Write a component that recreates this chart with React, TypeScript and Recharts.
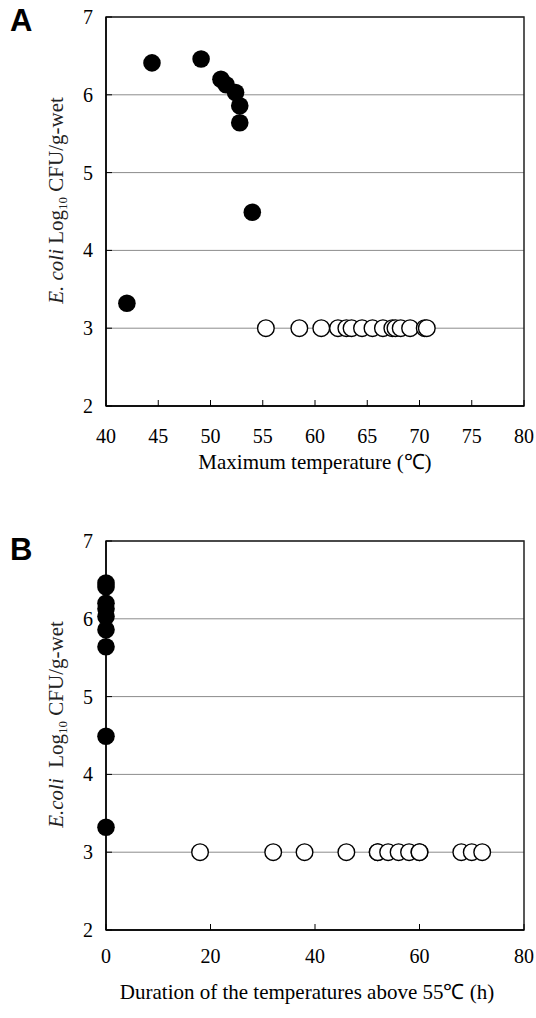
import React from "react";
import {
  ScatterChart,
  Scatter,
  XAxis,
  YAxis,
  CartesianGrid,
  ReferenceArea,
} from "recharts";

const logTicks = [2, 3, 4, 5, 6, 7];
const tempTicks = [40, 45, 50, 55, 60, 65, 70, 75, 80];
const durationTicks = [0, 20, 40, 60, 80];

// samples where E. coli was still detected (filled markers)
const detectedLog = [3.32, 6.41, 6.46, 6.2, 6.13, 6.03, 5.86, 5.64, 4.49];
const detectedMaxTemp = [42.0, 44.4, 49.1, 51.0, 51.5, 52.4, 52.8, 52.8, 54.0];
const detectedDuration = [0, 0, 0, 0, 0, 0, 0, 0, 0];

// samples at the detection limit (open markers)
const limitMaxTemp = [55.3, 58.5, 60.6, 62.2, 63.0, 63.5, 64.5, 65.5, 66.5, 67.4, 67.7, 68.2, 69.1, 70.5, 70.7];
const limitLogA = [3, 3, 3, 3, 3, 3, 3, 3, 3, 3, 3, 3, 3, 3, 3];
const limitDuration = [18, 32, 38, 46, 52, 52, 54, 56, 58, 60, 60, 68, 70, 72];
const limitLogB = [3, 3, 3, 3, 3, 3, 3, 3, 3, 3, 3, 3, 3, 3];

const SERIF = '"Liberation Serif", "Times New Roman", serif';
const W = 536;
const H = 494;

const FilledDot = (p: any) => <circle cx={p.cx} cy={p.cy} r={8.8} fill="#000" />;
const OpenDot = (p: any) => (
  <circle cx={p.cx} cy={p.cy} r={8.3} fill="#fff" stroke="#000" strokeWidth={1.4} />
);

const XTick = (p: any) => (
  <text
    x={p.x}
    y={p.y}
    dy="0.71em"
    textAnchor="middle"
    style={{ fontFamily: SERIF, fontSize: 20, fill: "#000" }}
  >
    {p.payload.value}
  </text>
);

const YTick = (p: any) => (
  <text
    x={p.x}
    y={p.y}
    dy="0.35em"
    textAnchor="end"
    style={{ fontFamily: SERIF, fontSize: 20, fill: "#000" }}
  >
    {p.payload.value}
  </text>
);

const yTitle = (compact: boolean) => (props: any) => {
  const vb = props.viewBox || { x: 0, y: 17, width: 106, height: 389 };
  const x = vb.x + 63;
  const y = vb.y + vb.height / 2 - 11;
  return (
    <text
      x={x}
      y={y}
      transform={`rotate(-90 ${x} ${y})`}
      textAnchor="middle"
      style={{ fontFamily: SERIF, fontSize: 21, fill: "#222" }}
    >
      <tspan fontStyle="italic">{compact ? "E.coli" : "E. coli"}</tspan>
      <tspan>{compact ? "\u00a0\u00a0Log" : " Log"}</tspan>
      <tspan fontSize={13} dy={4}>10</tspan>
      <tspan dy={-4}> CFU/g-wet</tspan>
    </text>
  );
};

const xTitle = (value: string, baseline: number, shift: number) => (props: any) => {
  const vb = props.viewBox || { x: 106, y: 406, width: 418, height: 88 };
  return (
    <text
      x={vb.x + vb.width / 2 + shift}
      y={baseline}
      textAnchor="middle"
      style={{ fontFamily: SERIF, fontSize: 21, fill: "#000" }}
    >
      {value}
    </text>
  );
};

interface PanelProps {
  letter: string;
  letterTop: number;
  top: number;
  xDomain: [number, number];
  xTicks: number[];
  title: string;
  titleBaseline: number;
  titleShift: number;
  tickGap: number;
  compactLabel: boolean;
  filled: { x: number; y: number }[];
  open: { x: number; y: number }[];
}

function Panel(p: PanelProps) {
  return (
    <div style={{ position: "absolute", left: 0, top: p.top, width: W, height: H }}>
      <div
        style={{
          position: "absolute",
          left: 10,
          top: p.letterTop,
          fontFamily: '"Liberation Sans", Arial, sans-serif',
          fontWeight: "bold",
          fontSize: 31,
          lineHeight: "31px",
        }}
      >
        {p.letter}
      </div>
      <ScatterChart width={W} height={H} margin={{ top: 17, right: 12, bottom: 0, left: 0 }}>
        <CartesianGrid vertical={false} stroke="#8c8c8c" />
        <XAxis
          type="number"
          dataKey="x"
          domain={p.xDomain}
          ticks={p.xTicks}
          interval={0}
          height={88}
          tickSize={-6}
          tickMargin={p.tickGap}
          axisLine={{ stroke: "#000", strokeWidth: 1.5 }}
          tickLine={{ stroke: "#000" }}
          tick={<XTick />}
          label={{ content: xTitle(p.title, p.titleBaseline, p.titleShift) }}
        />
        <YAxis
          type="number"
          dataKey="y"
          domain={[2, 7]}
          ticks={logTicks}
          interval={0}
          width={106}
          tickSize={-6}
          tickMargin={19}
          axisLine={{ stroke: "#000", strokeWidth: 1.5 }}
          tickLine={{ stroke: "#000" }}
          tick={<YTick />}
          label={{ content: yTitle(p.compactLabel) }}
        />
        <ReferenceArea
          x1={p.xDomain[0]}
          x2={p.xDomain[1]}
          y1={2}
          y2={7}
          fill="none"
          fillOpacity={0}
          stroke="#222"
          strokeWidth={1.5}
        />
        <Scatter data={p.open} shape={OpenDot} isAnimationActive={false} />
        <Scatter data={p.filled} shape={FilledDot} isAnimationActive={false} />
      </ScatterChart>
    </div>
  );
}

export default function App() {
  const filledA = detectedMaxTemp.map((t, i) => ({ x: t, y: detectedLog[i] }));
  const openA = limitMaxTemp.map((t, i) => ({ x: t, y: limitLogA[i] }));
  const filledB = detectedDuration.map((d, i) => ({ x: d, y: detectedLog[i] }));
  const openB = limitDuration.map((d, i) => ({ x: d, y: limitLogB[i] }));

  return (
    <div style={{ position: "absolute", left: 0, top: 0, width: 536, height: 1018, background: "#fff" }}>
      <Panel
        letter="A"
        letterTop={5}
        top={0}
        xDomain={[40, 80]}
        xTicks={tempTicks}
        title="Maximum temperature (℃)"
        titleBaseline={469}
        titleShift={0}
        tickGap={29}
        compactLabel={false}
        filled={filledA}
        open={openA}
      />
      <Panel
        letter="B"
        letterTop={10}
        top={524}
        xDomain={[0, 80]}
        xTicks={durationTicks}
        title="Duration of the temperatures above 55℃ (h)"
        titleBaseline={475}
        titleShift={-8}
        tickGap={25}
        compactLabel={true}
        filled={filledB}
        open={openB}
      />
    </div>
  );
}
